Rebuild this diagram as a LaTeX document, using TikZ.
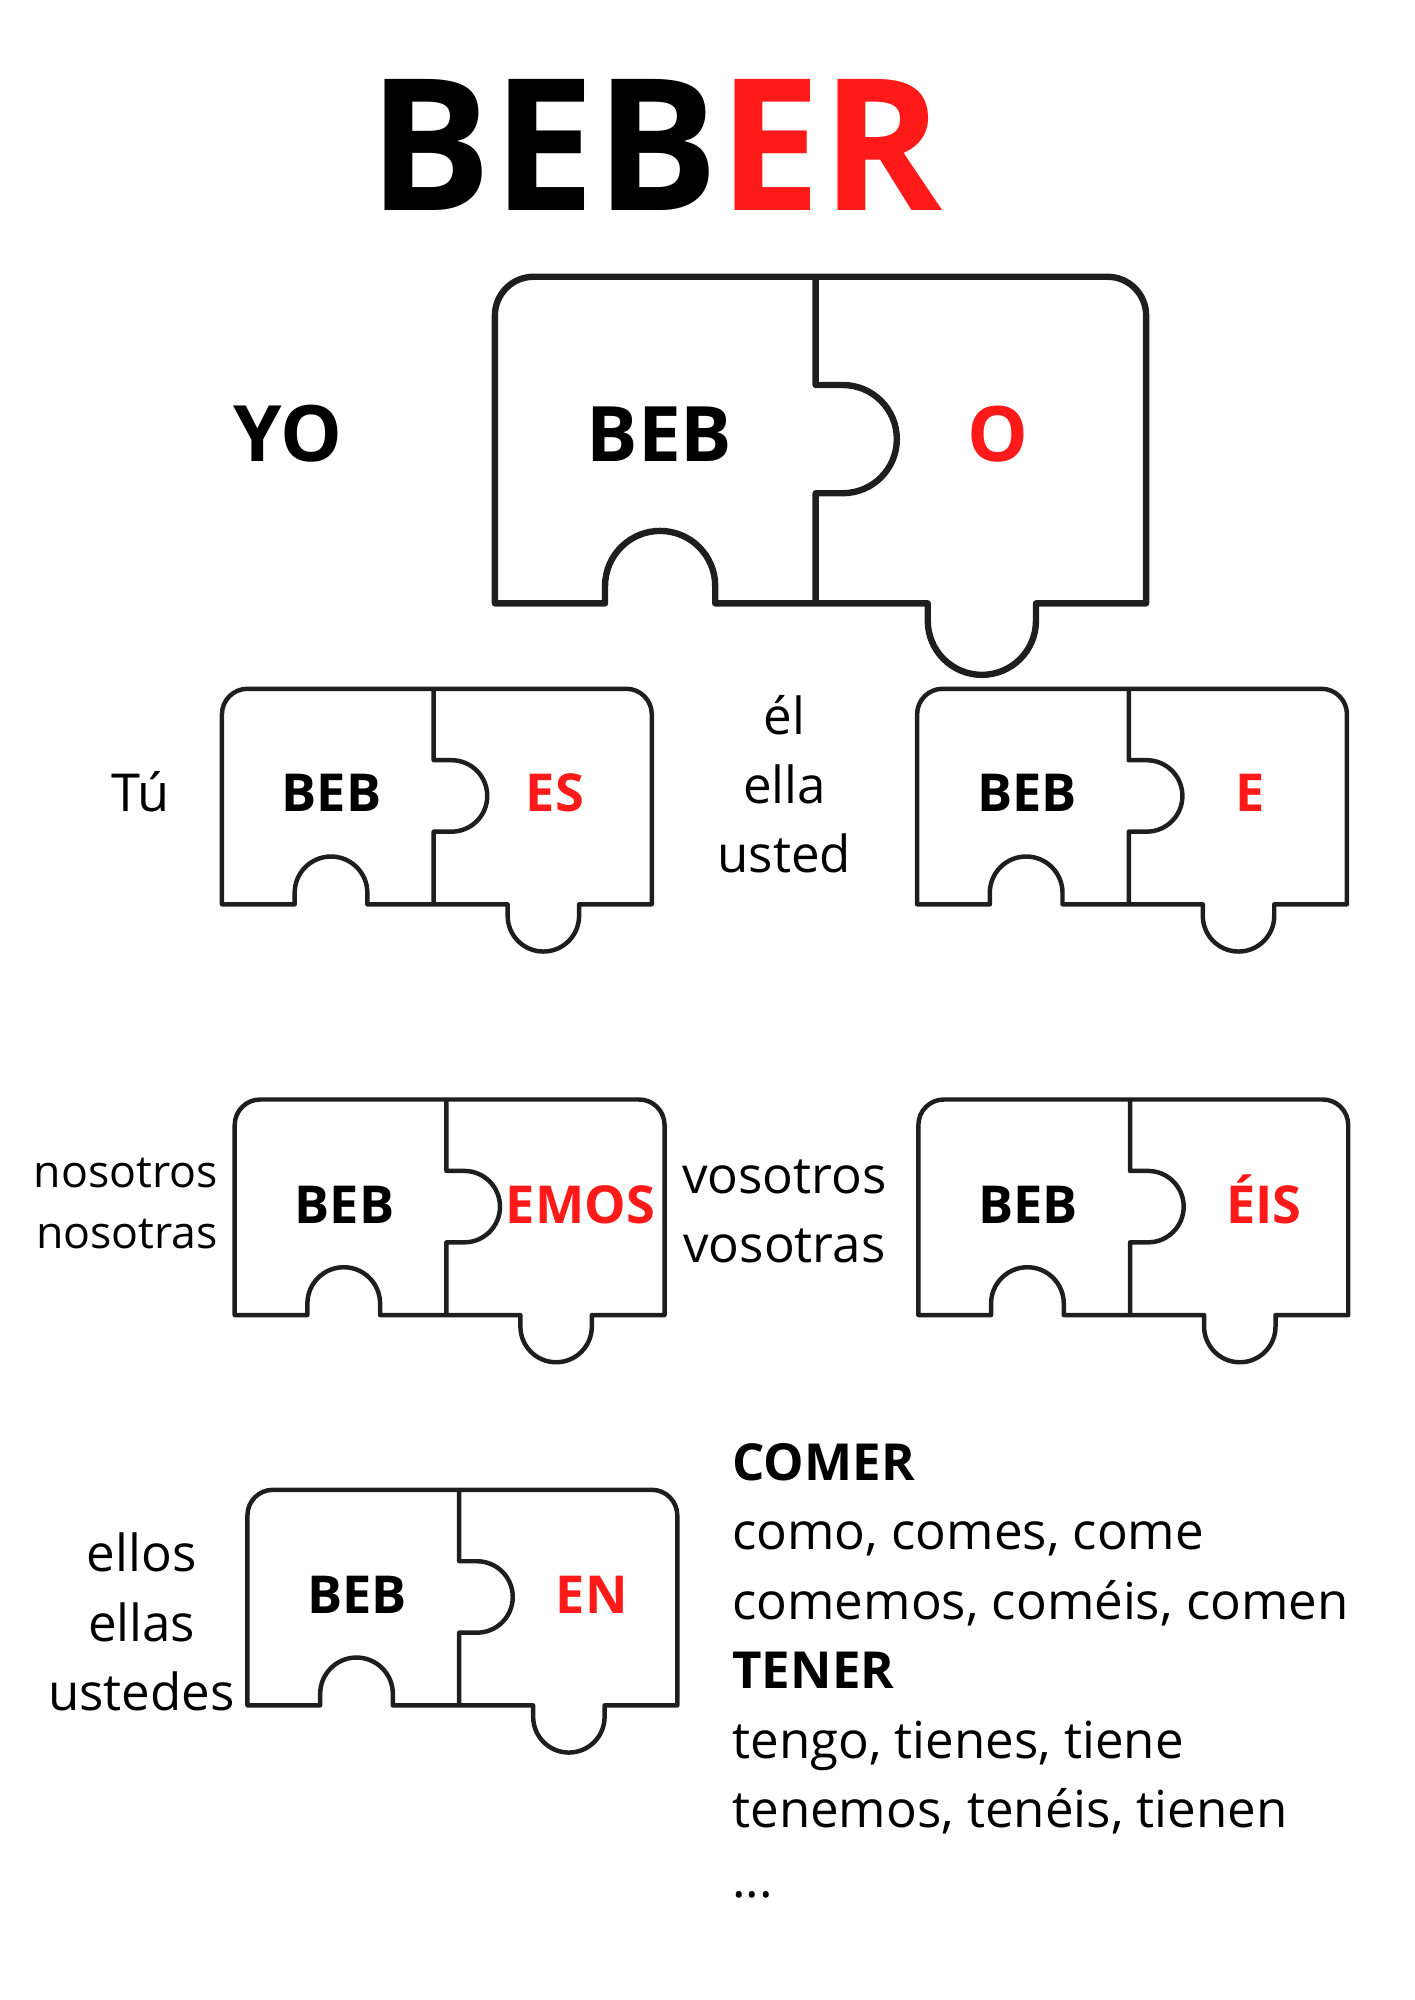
\documentclass[tikz,border=0pt]{standalone}
\usepackage{fontspec}
\setmainfont{Open Sans}
\usepackage{tikz}
\definecolor{endred}{RGB}{255,26,26}
\definecolor{outline}{RGB}{30,30,30}
\pgfdeclarelayer{piecelayer}
\pgfdeclarelayer{textlayer}
\pgfsetlayers{piecelayer,textlayer,main}
\tikzstyle{stem}=[font=\bfseries\fontsize{41}{49}\selectfont, anchor=base, inner sep=0pt]
\tikzstyle{ending}=[stem, text=endred]
\tikzstyle{pron}=[font=\fontsize{40}{48}\selectfont, anchor=base, inner sep=0pt]
\tikzstyle{conj}=[pron, anchor=base west]
\tikzset{
  puzzle/.pic={
    % outer edge of both pieces
    \draw[outline, line join=round]
      (0,169) -- (0,20) arc[start angle=180, end angle=270, radius=20]
      -- (317,0) arc[start angle=270, end angle=360, radius=20]
      -- (337,169) -- (280,169) -- (280,178)
      arc[start angle=0, end angle=180, radius=28] -- (224,169)
      -- (114,169) -- (114,160)
      arc[start angle=0, end angle=-180, radius=28.5] -- (57,169) -- cycle;
    % joint with the knob
    \draw[outline, line join=round]
      (166,0) -- (166,56) -- (180,56)
      arc[start angle=-90, end angle=90, radius=28] -- (166,112) -- (166,169);
  }
}

\begin{document}
\begin{tikzpicture}[x=1pt, y=-1pt]
    \useasboundingbox (0,0) rectangle (1109,1568);
        \begin{pgfonlayer}{piecelayer}
            \pic[scale=1.515, line width=5pt] at (388,217) {puzzle};
            \pic[line width=3.5pt] at (174,540) {puzzle};
            \pic[line width=3.5pt] at (719,540) {puzzle};
            \pic[line width=3.5pt] at (184,862) {puzzle};
            \pic[line width=3.5pt] at (720,862) {puzzle};
            \pic[line width=3.5pt] at (194,1168) {puzzle};
        \end{pgfonlayer}

        \begin{pgfonlayer}{textlayer}
            \node [font=\bfseries\fontsize{144}{172}\selectfont, anchor=base] (title) at (514,165) {BEB\textcolor{endred}{ER}};

            \node [style = stem, font=\bfseries\fontsize{61}{73}\selectfont] (yo) at (226,362) {YO};
            \node [style = stem, font=\bfseries\fontsize{60}{72}\selectfont] (beb0) at (517,362) {BEB};
            \node [style = ending, font=\bfseries\fontsize{60}{72}\selectfont] (end0) at (782,362) {O};

            \node [style = pron, font=\fontsize{41}{49}\selectfont] (tu) at (110,636) {Tú};
            \node [style = stem] (beb1) at (260,636) {BEB};
            \node [style = ending] (end1) at (435,636) {ES};

            \node [style = pron] (el) at (615,576) {él};
            \node [style = pron] (ella) at (615,630) {ella};
            \node [style = pron] (usted) at (615,684) {usted};
            \node [style = stem] (beb2) at (805,636) {BEB};
            \node [style = ending] (end2) at (980,636) {E};

            \node [style = pron, anchor=base east, font=\fontsize{35}{42}\selectfont] (nosotros) at (171,931) {nosotros};
            \node [style = pron, anchor=base east, font=\fontsize{35}{42}\selectfont] (nosotras) at (171,979) {nosotras};
            \node [style = stem] (beb3) at (270,959) {BEB};
            \node [style = ending] (end3) at (455,959) {EMOS};

            \node [style = pron] (vosotros) at (615,936) {vosotros};
            \node [style = pron] (vosotras) at (615,990) {vosotras};
            \node [style = stem] (beb4) at (806,959) {BEB};
            \node [style = ending] (end4) at (991,959) {ÉIS};

            \node [style = pron] (ellos) at (111,1232) {ellos};
            \node [style = pron] (ellas) at (111,1287) {ellas};
            \node [style = pron] (ustedes) at (111,1341) {ustedes};
            \node [style = stem] (beb5) at (280,1265) {BEB};
            \node [style = ending] (end5) at (464,1265) {EN};

            \node [style = conj, font=\bfseries\fontsize{40}{48}\selectfont] (comer) at (574,1161) {COMER};
            \node [style = conj] (comer1) at (574,1215) {como, comes, come};
            \node [style = conj] (comer2) at (574,1270) {comemos, coméis, comen};
            \node [style = conj, font=\bfseries\fontsize{40}{48}\selectfont] (tener) at (574,1324) {TENER};
            \node [style = conj] (tener1) at (574,1379) {tengo, tienes, tiene};
            \node [style = conj] (tener2) at (574,1433) {tenemos, tenéis, tienen};
            \node [style = conj] (dots) at (574,1488) {...};
        \end{pgfonlayer}
    \end{tikzpicture}
\end{document}
